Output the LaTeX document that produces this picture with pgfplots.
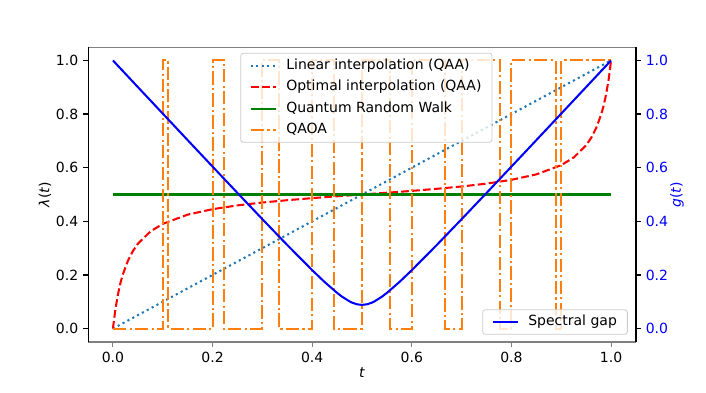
\documentclass[border=0pt]{standalone}
\usepackage{fontspec}
\setmainfont{DejaVu Sans}
\usepackage{pgfplots}
\pgfplotsset{compat=1.18}
\definecolor{tabblue}{HTML}{1F77B4}
\definecolor{taborange}{HTML}{FF7F0E}
\definecolor{mplgreen}{HTML}{008000}
\definecolor{spinegray}{HTML}{808080}
\definecolor{legframe}{HTML}{CCCCCC}

\begin{document}
\fontsize{14}{16.5}\selectfont
\begin{tikzpicture}
\useasboundingbox (-88pt,-50pt) rectangle (618pt,342pt);
\pgfplotsset{
  common/.style={
    scale only axis, width=548pt, height=295pt,
    xmin=-0.05, xmax=1.05, ymin=-0.05, ymax=1.05,
    /pgf/number format/assume math mode=true,
    /pgf/number format/fixed,
    /pgf/number format/fixed zerofill,
    /pgf/number format/precision=1,
    tick label style={font=\fontsize{14}{16.5}\selectfont},
    label style={font=\fontsize{14}{16.5}\selectfont},
    tick align=outside, major tick length=4.9pt,
    legend cell align=left,
    legend image code/.code={\draw[##1] (0pt,0pt) -- (25pt,0pt);},
  },
  legbox/.style={
    draw=legframe, line width=0.8pt, rounded corners=2.5pt, fill=white, fill opacity=0.8,
    text opacity=1, draw opacity=1, inner xsep=9pt, inner ysep=4pt,
    font=\fontsize{14}{16.5}\selectfont,
    nodes={inner sep=1.5pt, text height=10.5pt, text depth=3pt},
    row sep=5pt,
    /tikz/every odd column/.append style={column sep=8pt},
  },
}
\begin{axis}[common,
  xtick={0,0.2,0.4,0.6,0.8,1}, ytick={0,0.2,0.4,0.6,0.8,1},
  xtick pos=bottom, ytick pos=left,
  axis line style={draw=none},
  xtick style={spinegray, line width=1.1pt},
  ytick style={black, line width=1.1pt},
  xlabel={\textit{t}},
  xlabel style={at={(axis description cs:0.5,-0.102)}, anchor=center},
  ylabel={\textit{λ}(\textit{t})},
  ylabel style={at={(axis description cs:-0.0785,0.5)}, anchor=center},
  legend style={legbox, at={(0.508,0.98)}, anchor=north},
]
\draw[spinegray, line width=1.1pt] (rel axis cs:0,0) -- (rel axis cs:1,0);
\draw[spinegray, line width=1.1pt] (rel axis cs:0,1) -- (rel axis cs:1,1);
\draw[black, line width=1.1pt] (rel axis cs:0,0) -- (rel axis cs:0,1);
\addplot[tabblue, line width=2.05pt, dash pattern=on 2.1pt off 3.4pt] coordinates {(0,0) (1,1)};
\addlegendentry{Linear interpolation (QAA)}
\addplot[red, line width=2.05pt, dash pattern=on 7.7pt off 3.3pt] coordinates {
(0,0) (0.005,0.0721) (0.01,0.1262) (0.015,0.1693) (0.02,0.2020) (0.03,0.2526) (0.04,0.2888) (0.05,0.3161)
(0.075,0.3619) (0.1,0.3905) (0.15,0.4249) (0.2,0.4453) (0.25,0.4594) (0.3,0.4701)
(0.35,0.4788) (0.4,0.4865) (0.45,0.4934) (0.5,0.5) (0.55,0.5066) (0.6,0.5135)
(0.65,0.5212) (0.7,0.5299) (0.75,0.5406) (0.8,0.5547) (0.85,0.5751) (0.9,0.6095)
(0.925,0.6381) (0.95,0.6839) (0.96,0.7112) (0.97,0.7474) (0.98,0.7980) (0.985,0.8307) (0.99,0.8738)
(0.995,0.9279) (1,1)};
\addlegendentry{Optimal interpolation (QAA)}
\addplot[mplgreen, line width=2.05pt] coordinates {(0,0.5) (1,0.5)};
\addlegendentry{Quantum Random Walk}
\addplot[taborange, line width=2.05pt, dash pattern=on 13.3pt off 3.3pt on 2.1pt off 3.3pt] coordinates {
(0,0) (0.1,0) (0.1,1) (0.1111,1) (0.1111,0) (0.2,0) (0.2,1) (0.2222,1) (0.2222,0)
(0.3,0) (0.3,1) (0.3333,1) (0.3333,0) (0.4,0) (0.4,1) (0.4444,1) (0.4444,0)
(0.5,0) (0.5,1) (0.5556,1) (0.5556,0) (0.6,0) (0.6,1) (0.6667,1) (0.6667,0)
(0.7,0) (0.7,1) (0.7778,1) (0.7778,0) (0.8,0) (0.8,1) (0.8889,1) (0.8889,0)
(0.9,0) (0.9,1) (1,1)};
\addlegendentry{QAOA}
\end{axis}
\begin{axis}[common,
  axis y line*=right, axis x line=none,
  ytick={0,0.2,0.4,0.6,0.8,1},
  y axis line style={black, line width=1.1pt},
  ytick style={black, line width=1.1pt},
  yticklabel style={text=blue},
  ylabel={\textit{g}(\textit{t})},
  ylabel style={text=blue, at={(axis description cs:1.0748,0.5)}, anchor=center},
  legend style={legbox, at={(0.985,0.025)}, anchor=south east},
]
\addplot[blue, line width=2.05pt] coordinates {
(0,1) (0.05,0.9008) (0.1,0.8018) (0.15,0.7028) (0.2,0.6042) (0.25,0.5058) (0.3,0.4081)
(0.35,0.3116) (0.4,0.2179) (0.425,0.1736) (0.45,0.1332) (0.46,0.1190) (0.475,0.1015)
(0.48,0.0968) (0.49,0.0906) (0.5,0.0884) (0.51,0.0906) (0.52,0.0968) (0.525,0.1015)
(0.54,0.1190) (0.55,0.1332) (0.575,0.1736) (0.6,0.2179) (0.65,0.3116) (0.7,0.4081)
(0.75,0.5058) (0.8,0.6042) (0.85,0.7028) (0.9,0.8018) (0.95,0.9008) (1,1)};
\addlegendentry{Spectral gap}
\end{axis}
\end{tikzpicture}
\end{document}
